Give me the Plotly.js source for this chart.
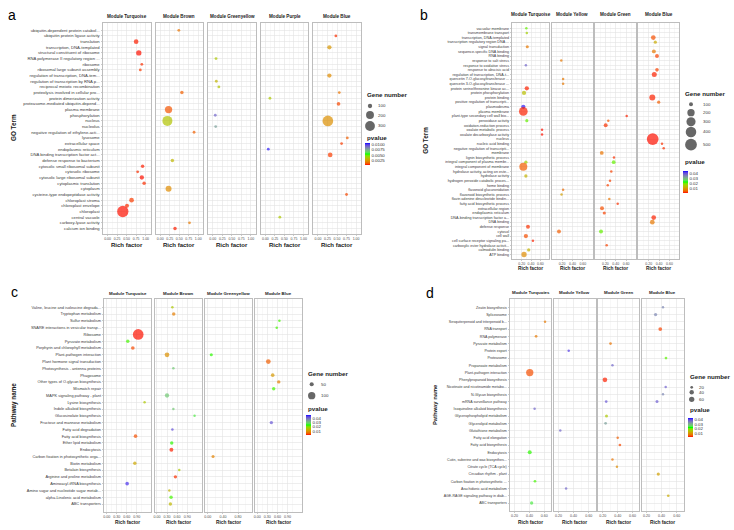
<!DOCTYPE html>
<html>
<head>
<meta charset="utf-8">
<script src="https://cdn.plot.ly/plotly-3.0.1.min.js"></script>
<style>body{margin:0;background:#fff}#chart{width:734px;height:530px}</style>
</head>
<body>
<div id="chart"></div>
<script>
// ---- data: rows are [term index, rich factor, gene number, pvalue] ----

const aTerms = [
    "ubiquitin-dependent protein catabol...", "ubiquitin protein ligase activity", "translation",
    "transcription, DNA-templated", "structural constituent of ribosome", "RNA polymerase II regulatory region ...",
    "ribosome", "ribosomal large subunit assembly", "regulation of transcription, DNA-tem...",
    "regulation of transcription by RNA p...", "reciprocal meiotic recombination", "proteolysis involved in cellular pro...",
    "protein dimerization activity", "proteasome-mediated ubiquitin-depend...", "plasma membrane",
    "phosphorylation", "nucleus", "nucleolus", "negative regulation of ethylene-acti...", "lysosome",
    "extracellular space", "endoplasmic reticulum", "DNA binding transcription factor act...",
    "defense response to bacterium", "cytosolic small ribosomal subunit", "cytosolic ribosome",
    "cytosolic large ribosomal subunit", "cytoplasmic translation", "cytoplasm",
    "cysteine-type endopeptidase activity", "chloroplast stroma", "chloroplast envelope", "chloroplast",
    "central vacuole", "carboxy-lyase activity", "calcium ion binding"
]
const aTurquoise = [[2, 0.75, 105, 0.0002], [4, 0.82, 117, 0.0001], [6, 0.90, 90, 0.0003], [7, 0.86, 90, 0.0004],
    [24, 0.92, 92, 0.0002], [25, 0.79, 90, 0.0003], [26, 0.90, 100, 0.0001], [27, 0.96, 92, 0.0003],
    [30, 0.63, 105, 0.0004], [31, 0.51, 96, 0.0003], [32, 0.40, 400, 0.0001]]
const aBrown = [[0, 0.49, 90, 0.0013], [11, 0.57, 92, 0.0009], [14, 0.22, 177, 0.0007], [16, 0.19, 313, 0.0034],
    [18, 0.89, 90, 0.0009], [23, 0.32, 92, 0.0030], [28, 0.22, 134, 0.0018], [34, 0.77, 90, 0.0014], [35, 0.39, 92, 0.0002]]
const aGreenyellow = [[5, 0.085, 90, 0.0035], [9, 0.093, 90, 0.0029], [10, 0.16, 90, 0.0034], [15, 0.066, 90, 0.0091], [17, 0.077, 90, 0.0077]]
const aPurple = [[12, 0.12, 90, 0.0035], [21, 0.077, 90, 0.0104], [33, 0.38, 90, 0.0035]]
const aBlue = [[1, 0.47, 90, 0.0003], [3, 0.30, 100, 0.0021], [8, 0.30, 100, 0.0018], [11, 0.56, 90, 0.0013],
    [13, 0.54, 93, 0.0005], [16, 0.26, 357, 0.0019], [19, 0.77, 90, 0.0009], [20, 0.62, 90, 0.0004],
    [22, 0.32, 105, 0.0004], [29, 0.75, 90, 0.0005]]

const bTerms = [
    "vacuolar membrane", "transmembrane transport", "transcription, DNA-templated", "transcription regulatory region DNA ...",
    "signal transduction", "sequence-specific DNA binding", "RNA binding", "response to salt stress",
    "response to oxidative stress", "response to abscisic acid", "regulation of transcription, DNA-t...",
    "quercetin 7-O-glucosyltransferase ...", "quercetin 3-O-glucosyltransferase ...", "protein serine/threonine kinase ac...",
    "protein phosphorylation", "protein binding", "positive regulation of transcripti...", "plasmodesma",
    "plasma membrane", "plant-type secondary cell wall bio...", "peroxidase activity", "oxidation-reduction process",
    "oxalate metabolic process", "oxalate decarboxylase activity", "nucleus", "nucleic acid binding",
    "negative regulation of transcripti...", "membrane", "lignin biosynthetic process",
    "integral component of plasma membr...", "integral component of membrane", "hydrolase activity, acting on este...",
    "hydrolase activity", "hydrogen peroxide catabolic proces...", "heme binding", "flavonoid glucuronidation",
    "flavonoid biosynthetic process", "flavin adenine dinucleotide bindin...", "fatty acid biosynthetic process",
    "extracellular region", "endoplasmic reticulum", "DNA-binding transcription factor a...", "DNA binding",
    "defense response", "cytosol", "cell wall", "cell surface receptor signaling pa...",
    "carboxylic ester hydrolase activit...", "calmodulin binding", "ATP binding"
]
const bTurquoise = [[0, 0.30, 90, 0.0198], [1, 0.31, 90, 0.0154], [4, 0.32, 92, 0.0057], [8, 0.29, 90, 0.0374],
    [13, 0.31, 105, 0.0009], [14, 0.25, 105, 0.0132], [17, 0.235, 105, 0.0427], [18, 0.235, 273, 0.0009],
    [20, 0.31, 92, 0.0198], [22, 0.635, 90, 0.0004], [23, 0.635, 90, 0.0004], [29, 0.29, 93, 0.0154],
    [30, 0.235, 234, 0.0035], [32, 0.29, 93, 0.0119], [43, 0.335, 100, 0.0013], [45, 0.29, 105, 0.0026],
    [46, 0.44, 90, 0.0009], [48, 0.35, 93, 0.0119], [49, 0.25, 127, 0.0075]]
const bYellow = [[7, 0.185, 90, 0.0057], [11, 0.22, 90, 0.0057], [12, 0.22, 90, 0.0057], [35, 0.22, 90, 0.0044],
    [36, 0.19, 90, 0.0097], [44, 0.14, 100, 0.0035]]
const bGreen = [[19, 0.61, 90, 0.0009], [20, 0.256, 90, 0.0031], [21, 0.206, 100, 0.0013], [27, 0.13, 98, 0.0053],
    [28, 0.366, 90, 0.0013], [29, 0.36, 98, 0.0198], [31, 0.314, 90, 0.0018], [33, 0.289, 90, 0.0018],
    [34, 0.245, 90, 0.0018], [37, 0.276, 90, 0.0053], [38, 0.437, 90, 0.0013], [39, 0.135, 100, 0.0026],
    [40, 0.179, 92, 0.0018], [44, 0.116, 100, 0.0198], [47, 0.225, 90, 0.0018]]
const bBlue = [[2, 0.289, 113, 0.0026], [3, 0.328, 92, 0.0110], [5, 0.30, 100, 0.0057], [6, 0.36, 100, 0.0018],
    [9, 0.36, 96, 0.0018], [10, 0.308, 120, 0.0009], [15, 0.27, 148, 0.0009], [16, 0.393, 92, 0.0035],
    [24, 0.277, 500, 0.0004], [25, 0.457, 90, 0.0013], [26, 0.489, 90, 0.0013], [41, 0.297, 113, 0.0009],
    [42, 0.27, 113, 0.0057]]

const cTerms = [
    "Valine, leucine and isoleucine degrada...", "Tryptophan metabolism", "Sulfur metabolism",
    "SNARE interactions in vesicular transp...", "Ribosome", "Pyruvate metabolism", "Porphyrin and chlorophyll metabolism",
    "Plant-pathogen interaction", "Plant hormone signal transduction", "Photosynthesis - antenna proteins", "Phagosome",
    "Other types of O-glycan biosynthesis", "Mismatch repair", "MAPK signaling pathway - plant", "Lysine biosynthesis",
    "Indole alkaloid biosynthesis", "Glucosinolate biosynthesis", "Fructose and mannose metabolism",
    "Fatty acid degradation", "Fatty acid biosynthesis", "Ether lipid metabolism", "Endocytosis",
    "Carbon fixation in photosynthetic orga...", "Biotin metabolism", "Betalain biosynthesis",
    "Arginine and proline metabolism", "Aminoacyl-tRNA biosynthesis", "Amino sugar and nucleotide sugar metab...",
    "alpha-Linolenic acid metabolism", "ABC transporters"
]
const cTurquoise = [[4, 0.94, 206, 0.0015], [5, 0.63, 46, 0.0226], [6, 0.78, 47, 0.0033], [14, 1.13, 44, 0.0162],
    [19, 0.86, 47, 0.0038], [23, 0.84, 46, 0.0120], [26, 0.61, 47, 0.0447]]
const cBrown = [[0, 0.46, 44, 0.0162], [1, 0.50, 46, 0.0074], [7, 0.30, 56, 0.0093], [9, 0.49, 44, 0.0300],
    [13, 0.30, 52, 0.0300], [15, 0.49, 44, 0.0300], [16, 1.12, 44, 0.0263], [18, 0.46, 44, 0.0424],
    [20, 0.44, 46, 0.0231], [21, 0.43, 49, 0.0019], [24, 0.665, 44, 0.0162], [25, 0.55, 46, 0.0024],
    [27, 0.37, 44, 0.0134], [28, 0.42, 46, 0.0226], [29, 0.40, 46, 0.0139]]
const cGreenyellow = [[7, 0.094, 45, 0.0231], [22, 0.14, 45, 0.0079]]
const cBlue = [[2, 0.66, 44, 0.0226], [3, 0.58, 44, 0.0226], [8, 0.33, 56, 0.0047], [10, 0.46, 47, 0.0102],
    [11, 0.64, 46, 0.0074], [12, 0.49, 46, 0.0226], [17, 0.42, 46, 0.0415]]

const dTerms = [
    "Zeatin biosynthesis", "Spliceosome", "Sesquiterpenoid and triterpenoid b...", "RNA transport", "RNA polymerase",
    "Pyruvate metabolism", "Protein export", "Proteasome", "Propanoate metabolism", "Plant-pathogen interaction",
    "Phenylpropanoid biosynthesis", "Nicotinate and nicotinamide metabo...", "N-Glycan biosynthesis",
    "mRNA surveillance pathway", "Isoquinoline alkaloid biosynthesis", "Glycerophospholipid metabolism",
    "Glycerolipid metabolism", "Glutathione metabolism", "Fatty acid elongation", "Fatty acid biosynthesis",
    "Endocytosis", "Cutin, suberine and wax biosynthes...", "Citrate cycle (TCA cycle)", "Circadian rhythm - plant",
    "Carbon fixation in photosynthetic ...", "Arachidonic acid metabolism", "AGE-RAGE signaling pathway in diab...",
    "ABC transporters"
]
const dTurquoise = [[2, 0.61, 19, 0.0075], [4, 0.49, 20, 0.0075], [9, 0.405, 126, 0.0045], [14, 0.47, 19, 0.0377],
    [20, 0.405, 33, 0.0222], [24, 0.475, 20, 0.0217], [27, 0.43, 25, 0.0251]]
const dYellow = [[6, 0.335, 19, 0.0411], [17, 0.223, 19, 0.0377], [25, 0.30, 19, 0.0377]]
const dGreen = [[5, 0.304, 20, 0.0070], [8, 0.33, 19, 0.0377], [10, 0.229, 46, 0.0028], [13, 0.246, 20, 0.0390],
    [15, 0.25, 22, 0.0159], [16, 0.238, 20, 0.0322], [18, 0.40, 19, 0.0054], [19, 0.43, 20, 0.0041],
    [21, 0.33, 19, 0.0070], [22, 0.39, 19, 0.0091]]
const dBlue = [[0, 0.418, 19, 0.0348], [1, 0.32, 24, 0.0348], [3, 0.382, 29, 0.0037], [7, 0.458, 20, 0.0213],
    [11, 0.454, 19, 0.0381], [12, 0.418, 19, 0.0348], [13, 0.339, 22, 0.0385], [23, 0.356, 24, 0.0112],
    [26, 0.488, 20, 0.0125]]

// tick labels and legend breaks
const aRichTicks = [0, 0.25, 0.5, 0.75, 1]
const bRichTicks = [0.2, 0.4, 0.6]
const cRichTicks = [0, 0.3, 0.6, 0.9]
const cRichTicksGY = [0, 0.4, 0.8]
const dRichTicks = [0.2, 0.4, 0.6]
const aGeneBreaks = [100, 200, 300]
const bGeneBreaks = [100, 200, 300, 400, 500]
const cGeneBreaks = [50, 100]
const dGeneBreaks = [20, 40, 60]
const aPTicks = [0.0025, 0.005, 0.0075, 0.01]
const aPLabels = ["0.0025", "0.0050", "0.0075", "0.0100"]
const pTicks = [0.01, 0.02, 0.03, 0.04]
const pLabels = ["0.01", "0.02", "0.03", "0.04"]

// ---- layout ----
const W = 734, H = 530
const X = v => v / W
const Y = v => 1 - v / H

// red -> green -> blue, mixed in Lab like ggplot's gradientn
function toLab (c) {
    const f = v => { v /= 255; return v <= 0.04045 ? v / 12.92 : Math.pow((v + 0.055) / 1.055, 2.4) }
    let r = f(c[0]), g = f(c[1]), b = f(c[2])
    let x = (r * 0.4124 + g * 0.3576 + b * 0.1805) / 0.95047
    let y = r * 0.2126 + g * 0.7152 + b * 0.0722
    let z = (r * 0.0193 + g * 0.1192 + b * 0.9505) / 1.08883
    const h = t => t > 0.008856 ? Math.cbrt(t) : 7.787 * t + 16 / 116
    return [116 * h(y) - 16, 500 * (h(x) - h(y)), 200 * (h(y) - h(z))]
}
function fromLab (l) {
    let fy = (l[0] + 16) / 116, fx = fy + l[1] / 500, fz = fy - l[2] / 200
    const g = t => t * t * t > 0.008856 ? t * t * t : (t - 16 / 116) / 7.787
    let x = g(fx) * 0.95047, y = g(fy), z = g(fz) * 1.08883
    let r = x * 3.2406 - y * 1.5372 - z * 0.4986
    let gg = -x * 0.9689 + y * 1.8758 + z * 0.0415
    let b = x * 0.0557 - y * 0.2040 + z * 1.0570
    const c = v => { v = Math.max(0, Math.min(1, v)); v = v <= 0.0031308 ? 12.92 * v : 1.055 * Math.pow(v, 1 / 2.4) - 0.055; return Math.round(Math.max(0, Math.min(1, v)) * 255) }
    return "rgb(" + c(r) + "," + c(gg) + "," + c(b) + ")"
}
const labRed = toLab([255, 0, 0]), labGreen = toLab([0, 255, 0]), labBlue = toLab([0, 0, 255])
const pScale = []
for (let i = 0; i <= 24; i++) {
    let t = i / 24
    let from = t <= 0.5 ? labRed : labGreen
    let to = t <= 0.5 ? labGreen : labBlue
    let u = t <= 0.5 ? t * 2 : (t - 0.5) * 2
    pScale.push([t, fromLab(from.map((v, j) => v + (to[j] - v) * u))])
}

const panels = [
    {
        letter: "a", letterXY: [12, 15], terms: aTerms, yTitle: "GO Term", yTitleXY: [14, 128], yTitleSize: 6.3,
        top: 23, bottom: 234, y0: 30.3, y1: 228.5, labelSize: 4.2, tickSize: 3.5, stripY: 17, stripSize: 4.6, richY: 245, richSize: 6,
        size: {nmin: 90, nmax: 400, dmin: 2.8, dmax: 11.3}, pRange: [0, 0.0107], pTicks: aPTicks, pLabels: aPLabels, genes: aGeneBreaks,
        legend: {x: 365, titleY: 95, keyX: 370, keyY: [106, 115, 126], labelX: 376, pTitleY: 137, barTop: 143.3, barLen: 21.7},
        facets: [
            {name: "Module Turquoise", rows: aTurquoise, x0: 103, x1: 150.6, range: [-0.12, 1.13], ticks: aRichTicks},
            {name: "Module Brown", rows: aBrown, x0: 155.6, x1: 203.2, range: [-0.12, 1.13], ticks: aRichTicks},
            {name: "Module Greenyellow", rows: aGreenyellow, x0: 208.2, x1: 255.8, range: [-0.12, 1.13], ticks: aRichTicks},
            {name: "Module Purple", rows: aPurple, x0: 260.8, x1: 308.4, range: [-0.12, 1.13], ticks: aRichTicks},
            {name: "Module Blue", rows: aBlue, x0: 313.4, x1: 361, range: [-0.12, 1.13], ticks: aRichTicks}
        ]
    },
    {
        letter: "b", letterXY: [424, 15], terms: bTerms, yTitle: "GO Term", yTitleXY: [425.7, 140], yTitleSize: 6.3,
        top: 22.7, bottom: 259, y0: 28.3, y1: 254.5, labelSize: 3.7, tickSize: 3.5, stripY: 15, stripSize: 4.6, richY: 268.5, richSize: 4.8,
        size: {nmin: 90, nmax: 520, dmin: 2.5, dmax: 12}, pRange: [0, 0.044], pTicks: pTicks, pLabels: pLabels, genes: bGeneBreaks,
        legend: {x: 683.3, titleY: 93.3, keyX: 691, keyY: [104.3, 112.7, 121.7, 132, 144.7], labelX: 701, pTitleY: 162, barTop: 171, barLen: 22.3},
        facets: [
            {name: "Module Turquoise", rows: bTurquoise, x0: 512.3, x1: 549.3, range: [0, 0.79], ticks: bRichTicks},
            {name: "Module Yellow", rows: bYellow, x0: 551.7, x1: 592.7, range: [0, 0.79], ticks: bRichTicks},
            {name: "Module Green", rows: bGreen, x0: 595, x1: 636, range: [0, 0.79], ticks: bRichTicks},
            {name: "Module Blue", rows: bBlue, x0: 638.3, x1: 679.3, range: [0, 0.79], ticks: bRichTicks}
        ]
    },
    {
        letter: "c", letterXY: [14, 292], terms: cTerms, yTitle: "Pathway name", yTitleXY: [14, 405], yTitleSize: 6.3,
        top: 299.3, bottom: 511.7, y0: 307.3, y1: 504, labelSize: 3.9, tickSize: 3.6, stripY: 293.7, stripSize: 4.4, richY: 522.5, richSize: 4.8,
        size: {nmin: 44, nmax: 206, dmin: 2.5, dmax: 10.7}, pRange: [0.001, 0.047], pTicks: pTicks, pLabels: pLabels, genes: cGeneBreaks,
        legend: {x: 305.7, titleY: 373.3, keyX: 311.7, keyY: [384.3, 395.7], labelX: 319, pTitleY: 408.3, barTop: 415, barLen: 20},
        facets: [
            {name: "Module Turquoise", rows: cTurquoise, x0: 104.3, x1: 151.3, range: [-0.07, 1.33], ticks: cRichTicks},
            {name: "Module Brown", rows: cBrown, x0: 154.6, x1: 201.6, range: [-0.07, 1.33], ticks: cRichTicks},
            {name: "Module Greenyellow", rows: cGreenyellow, x0: 204.7, x1: 251.7, range: [-0.08, 1.16], ticks: cRichTicksGY},
            {name: "Module Blue", rows: cBlue, x0: 254.9, x1: 301.9, range: [-0.07, 1.33], ticks: cRichTicks}
        ]
    },
    {
        letter: "d", letterXY: [430, 293], terms: dTerms, yTitle: "Pathway name", yTitleXY: [435, 405], yTitleSize: 5.8,
        top: 299.3, bottom: 511, y0: 307.3, y1: 503, labelSize: 3.6, tickSize: 3.6, stripY: 292.3, stripSize: 4.4, richY: 522.5, richSize: 4.8,
        size: {nmin: 18, nmax: 126, dmin: 2, dmax: 7.3}, pRange: [0.002, 0.044], pTicks: pTicks, pLabels: pLabels, genes: dGeneBreaks,
        legend: {x: 687.7, titleY: 376, keyX: 691.7, keyY: [387.3, 392.3, 399.3], labelX: 697, pTitleY: 409.3, barTop: 417.7, barLen: 19},
        facets: [
            {name: "Module Turquoies", rows: dTurquoise, x0: 510, x1: 551, range: [0.14, 0.69], ticks: dRichTicks},
            {name: "Module Yellow", rows: dYellow, x0: 554, x1: 595.5, range: [0.14, 0.69], ticks: dRichTicks},
            {name: "Module Green", rows: dGreen, x0: 598.3, x1: 639.3, range: [0.14, 0.69], ticks: dRichTicks},
            {name: "Module Blue", rows: dBlue, x0: 642, x1: 683.5, range: [0.14, 0.69], ticks: dRichTicks}
        ]
    }
]

const frameColor = "#BDBDBD"
const gridMajor = "#E3E3E3"
const gridMinor = "#F1F1F1"

function minorTicks (ticks, range) {
    let step = ticks[1] - ticks[0]
    let out = []
    for (let v = ticks[0] - step * 1.5; v < range[1]; v += step) {
        if (v > range[0]) out.push(v)
    }
    return out
}

function note (x, y, text, size, opts) {
    return Object.assign({
        xref: "paper", yref: "paper", x: X(x), y: Y(y), text: text, showarrow: false,
        xanchor: "center", yanchor: "middle", font: {size: size, color: "#1a1a1a"}
    }, opts || {})
}

const traces = []
const annotations = []
const layout = {
    width: W, height: H,
    margin: {l: 0, r: 0, t: 0, b: 0},
    paper_bgcolor: "white",
    plot_bgcolor: "rgba(0,0,0,0)",
    showlegend: false,
    font: {family: "Liberation Sans, Arial, sans-serif", size: 5, color: "#333"},
    annotations: annotations
}

let k = 0
panels.forEach(function (p, pi) {
    let n = p.terms.length
    let step = (p.y1 - p.y0) / (n - 1)
    let yRange = [n - 1 + (p.bottom - p.y1) / step, -(p.y0 - p.top) / step]
    let ca = pi === 0 ? "coloraxis" : "coloraxis" + (pi + 1)
    let sz = g => p.size.dmin + (p.size.dmax - p.size.dmin) * Math.sqrt(Math.max(0, (g - p.size.nmin) / (p.size.nmax - p.size.nmin)))

    p.facets.forEach(function (f, fi) {
        k++
        let xn = k === 1 ? "xaxis" : "xaxis" + k
        let yn = k === 1 ? "yaxis" : "yaxis" + k
        let xr = k === 1 ? "x" : "x" + k
        let yr = k === 1 ? "y" : "y" + k

        traces.push({
            type: "scatter", mode: "markers",
            x: f.rows.map(r => r[1]),
            y: f.rows.map(r => p.terms[r[0]]),
            xaxis: xr, yaxis: yr,
            marker: {size: f.rows.map(r => sz(r[2])), color: f.rows.map(r => r[3]), coloraxis: ca, line: {width: 0}},
            hoverinfo: "skip"
        })

        layout[xn] = {
            domain: [X(f.x0), X(f.x1)], anchor: yr, range: f.range,
            tickmode: "array", tickvals: f.ticks, ticktext: f.ticks.map(v => v.toFixed(2)), tickangle: 0,
            tickfont: {size: p.tickSize, color: "#4d4d4d"},
            ticks: "outside", ticklen: 1, tickwidth: 0.5, tickcolor: "#999",
            showgrid: true, gridcolor: gridMajor, gridwidth: 0.6,
            minor: {tickvals: minorTicks(f.ticks, f.range), showgrid: true, gridcolor: gridMinor, gridwidth: 0.5, ticks: ""},
            showline: true, mirror: true, linecolor: frameColor, linewidth: 1,
            zeroline: false, fixedrange: true
        }
        layout[yn] = {
            domain: [Y(p.bottom), Y(p.top)], anchor: xr,
            type: "category", categoryorder: "array", categoryarray: p.terms,
            range: yRange, tickmode: "linear", tick0: 0, dtick: 1,
            showticklabels: fi === 0, ticks: fi === 0 ? "outside" : "",
            ticklen: 1.5, tickwidth: 0.5, tickcolor: "#999",
            tickfont: {size: p.labelSize, color: "#3a3a3a"},
            showgrid: true, gridcolor: gridMajor, gridwidth: 0.6,
            showline: true, mirror: true, linecolor: frameColor, linewidth: 1,
            zeroline: false, fixedrange: true
        }

        let cx = (f.x0 + f.x1) / 2
        annotations.push(note(cx, p.stripY, "<b>" + f.name + "</b>", p.stripSize))
        annotations.push(note(cx, p.richY, "<b>Rich factor</b>", p.richSize))
    })

    annotations.push(note(p.letterXY[0], p.letterXY[1], p.letter, 14, {font: {size: 14, color: "#000"}}))
    annotations.push(note(p.yTitleXY[0], p.yTitleXY[1], "<b>" + p.yTitle + "</b>", p.yTitleSize, {textangle: -90}))

    // size legend
    let lg = p.legend
    annotations.push(note(lg.x, lg.titleY, "<b>Gene number</b>", 6.2, {xanchor: "left"}))
    p.genes.forEach(function (g, gi) {
        annotations.push(note(lg.labelX, lg.keyY[gi], String(g), 4.4, {xanchor: "left", font: {size: 4.4, color: "#333"}}))
    })
    traces.push({
        type: "scatter", mode: "markers",
        x: p.genes.map(() => lg.keyX), y: lg.keyY,
        xaxis: "x30", yaxis: "y30",
        marker: {size: p.genes.map(sz), color: "#262626", line: {width: 0}},
        hoverinfo: "skip"
    })

    // pvalue colour bar
    annotations.push(note(lg.x, lg.pTitleY, "<b>pvalue</b>", 6.2, {xanchor: "left"}))
    layout[ca] = {
        cmin: p.pRange[0], cmax: p.pRange[1], colorscale: pScale,
        colorbar: {
            x: X(lg.x), xanchor: "left", y: Y(lg.barTop), yanchor: "top",
            len: lg.barLen, lenmode: "pixels", thickness: 5, thicknessmode: "pixels",
            xpad: 0, ypad: 0, outlinewidth: 0, ticks: "",
            tickmode: "array", tickvals: p.pTicks, ticktext: p.pLabels,
            tickfont: {size: 4.4, color: "#333"}, title: {text: ""}
        }
    }
})

// pixel overlay for legend keys
layout.xaxis30 = {domain: [0, 1], range: [0, W], visible: false, fixedrange: true, anchor: "y30"}
layout.yaxis30 = {domain: [0, 1], range: [H, 0], visible: false, fixedrange: true, anchor: "x30"}

Plotly.newPlot("chart", traces, layout, {displayModeBar: false, staticPlot: true})
</script>
</body>
</html>
